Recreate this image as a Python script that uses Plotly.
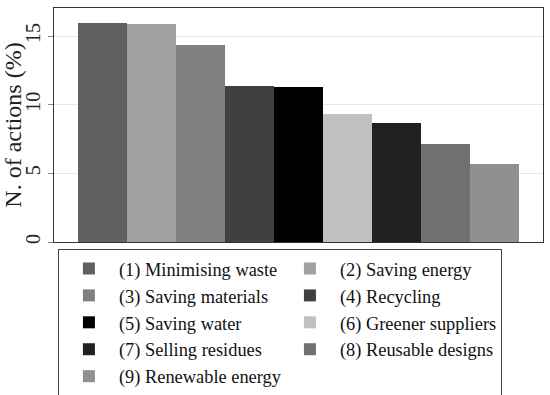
import plotly.graph_objects as go

labels = ["(1) Minimising waste", "(2) Saving energy", "(3) Saving materials",
          "(4) Recycling", "(5) Saving water", "(6) Greener suppliers",
          "(7) Selling residues", "(8) Reusable designs", "(9) Renewable energy"]
positions = [1, 2, 3, 4, 5, 6, 7, 8, 9]
values = [15.95, 15.85, 14.35, 11.38, 11.31, 9.32, 8.69, 7.16, 5.70]
colors = ["#606060", "#a0a0a0", "#808080", "#404040", "#000000",
          "#c0c0c0", "#202020", "#707070", "#909090"]
yticks = [0, 5, 10, 15]

FONT = "Liberation Serif, Times New Roman, serif"

fig = go.Figure()
for lab, xp, v, c in zip(labels, positions, values, colors):
    fig.add_trace(go.Bar(x=[xp], y=[v], name=lab, width=1,
                         marker=dict(color=c, line=dict(width=0))))

fig.update_layout(
    width=550, height=395,
    margin=dict(l=54, r=7, t=8, b=153, autoexpand=False),
    paper_bgcolor="white", plot_bgcolor="white",
    barmode="overlay", bargap=0,
    font=dict(family=FONT, color="#222"),
    legend=dict(
        orientation="h", x=0.008, y=-0.03, xanchor="left", yanchor="top",
        itemwidth=50, entrywidth=156, entrywidthmode="pixels",
        bordercolor="#444", borderwidth=1,
        font=dict(family=FONT, size=18.4, color="#111"),
        traceorder="normal", tracegroupgap=0,
    ),
    xaxis=dict(range=[0, 10], showticklabels=False, ticks="", showgrid=False,
               zeroline=False, showline=True, linecolor="#333", linewidth=1,
               mirror=True, fixedrange=True, automargin=False),
    yaxis=dict(range=[0, 17.04], tickvals=yticks, ticks="outside", ticklen=5,
               tickcolor="#888", tickangle=-90, automargin=False,
               tickfont=dict(family=FONT, size=20, color="#222"),
               showgrid=True, gridcolor="#e6e6e6", gridwidth=1,
               zeroline=False, showline=True, linecolor="#333", linewidth=1,
               mirror=True,
               title=dict(text="N. of actions (%)", standoff=2,
                          font=dict(family=FONT, size=24, color="#222"))),
)

fig.write_html("out.html", config={"displayModeBar": False},
               post_script="document.body.style.margin='0';")
